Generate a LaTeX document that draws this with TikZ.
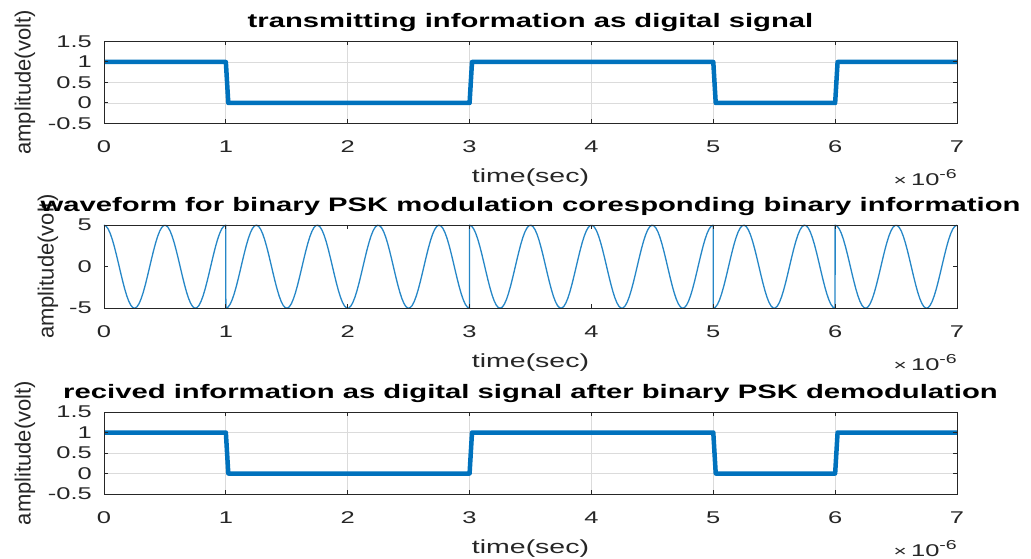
\documentclass[tikz,border=0pt]{standalone}
\usepackage{fontspec}
\setmainfont{Liberation Sans}
\usepackage{graphicx}

\definecolor{sig}{RGB}{0,114,189}
\definecolor{axgray}{gray}{0.15}
\definecolor{gridgray}{gray}{0.86}

% horizontally widened text
\newcommand\wide[1]{\scalebox{1.5}[1]{#1}}
\newcommand\tickfont{\fontsize{17}{17}\selectfont}
\newcommand\labfont{\fontsize{19}{19}\selectfont}
\newcommand\ylabfont{\fontsize{22}{22}\selectfont}
\newcommand\titfont{\bfseries\fontsize{19.5}{20}\selectfont}
\newcommand\expfont{\fontsize{17}{17}\selectfont}
\newcommand\exptext{\wide{{\fontsize{15}{15}\selectfont ×}\,10\raisebox{7pt}{\fontsize{13}{13}\selectfont -6}}}

\tikzset{
  axbox/.style={draw=axgray, line width=1pt},
  gridline/.style={draw=gridgray, line width=0.9pt},
  tickmark/.style={draw=axgray, line width=1pt},
  bits/.style={draw=sig, line width=4.5pt, line join=round},
  wave/.style={draw=sig!85, line width=1.3pt, line join=round},
  xtick/.style={anchor=base, inner sep=0pt, text=axgray, font=\tickfont},
  ytick/.style={anchor=east, inner sep=0pt, text=axgray, font=\tickfont},
  xlab/.style={anchor=base, inner sep=0pt, text=axgray, font=\labfont},
  ylab/.style={anchor=center, inner sep=0pt, text=axgray, font=\ylabfont, rotate=90},
  titl/.style={anchor=base, inner sep=0pt, text=black, font=\titfont},
  expo/.style={anchor=base east, inner sep=0pt, text=axgray, font=\expfont},
}

\begin{document}
\begin{tikzpicture}[x=1pt, y=-1pt]
\useasboundingbox (0,0) rectangle (1031,559);
\fill[white] (0,0) rectangle (1031,559);

% ---------- digital input signal ----------
\begin{scope}[xshift=104pt, yshift=-103pt, x=121.857pt, y=41pt]
  \foreach \t in {1,...,6} \draw[gridline] (\t,-0.5) -- (\t,1.5);
  \foreach \v in {0,0.5,1} \draw[gridline] (0,\v) -- (7,\v);
  \draw[bits] (0,1) -- (1,1) -- (1.02,0) -- (3,0) -- (3.02,1) -- (5,1)
              -- (5.02,0) -- (6,0) -- (6.02,1) -- (7,1);
  \draw[axbox] (0,-0.5) rectangle (7,1.5);
  \foreach \t in {0,...,7} {
    \draw[tickmark] (\t,-0.5) -- ++(0pt,4pt);
    \draw[tickmark] (\t,1.5) -- ++(0pt,-4pt);
    \path (\t,-0.5) ++(0pt,-29pt) node[xtick] (ax1x\t) {\wide{\t}};
  }
  \foreach \v/\s in {-0.5/-0.5,0/0,0.5/0.5,1/1,1.5/1.5} {
    \draw[tickmark] (0,\v) -- ++(4pt,0pt);
    \draw[tickmark] (7,\v) -- ++(-4pt,0pt);
    \path (0,\v) ++(-12pt,0pt) node[ytick] (ax1y\s) {\wide{\s}};
  }
  \path (3.5,-0.5) ++(0pt,-59pt) node[xlab] (ax1xl) {\wide{time(sec)}};
  \path (7,-0.5) ++(0pt,-62pt) node[expo] (ax1ex) {\exptext};
  \path (0,0.5) ++(-79pt,0pt) node[ylab] (ax1yl) {amplitude(volt)};
  \path (3.5,1.5) ++(0pt,13.5pt) node[titl] (ax1t) {\wide{transmitting information as digital signal}};
\end{scope}

% ---------- BPSK waveform ----------
\begin{scope}[xshift=104pt, yshift=-266.7pt, x=121.857pt, y=8.3pt]
  \draw[wave] plot[domain=0:1, samples=60] (\x,{5*cos(720*\x)})
    -- plot[domain=1:3, samples=120] (\x,{-5*cos(720*\x)})
    -- plot[domain=3:5, samples=120] (\x,{5*cos(720*\x)})
    -- plot[domain=5:6, samples=60] (\x,{-5*cos(720*\x)})
    -- plot[domain=6:7, samples=60] (\x,{5*cos(720*\x)});
  \draw[axbox] (0,-5) rectangle (7,5);
  \foreach \t in {0,...,7} {
    \draw[tickmark] (\t,-5) -- ++(0pt,4pt);
    \draw[tickmark] (\t,5) -- ++(0pt,-4pt);
    \path (\t,-5) ++(0pt,-29pt) node[xtick] (ax2x\t) {\wide{\t}};
  }
  \foreach \v in {-5,0,5} {
    \draw[tickmark] (0,\v) -- ++(4pt,0pt);
    \draw[tickmark] (7,\v) -- ++(-4pt,0pt);
    \path (0,\v) ++(-12pt,0pt) node[ytick] (ax2y\v) {\wide{\v}};
  }
  \path (3.5,-5) ++(0pt,-59pt) node[xlab] (ax2xl) {\wide{time(sec)}};
  \path (7,-5) ++(0pt,-62pt) node[expo] (ax2ex) {\exptext};
  \path (0,0) ++(-56pt,0pt) node[ylab] (ax2yl) {amplitude(volt)};
  \path (3.5,5) ++(0pt,14pt) node[titl] (ax2t) {\wide{waveform for binary PSK modulation coresponding binary information}};
\end{scope}

% ---------- demodulated signal ----------
\begin{scope}[xshift=104pt, yshift=-473.5pt, x=121.857pt, y=41pt]
  \foreach \t in {1,...,6} \draw[gridline] (\t,-0.5) -- (\t,1.5);
  \foreach \v in {0,0.5,1} \draw[gridline] (0,\v) -- (7,\v);
  \draw[bits] (0,1) -- (1,1) -- (1.02,0) -- (3,0) -- (3.02,1) -- (5,1)
              -- (5.02,0) -- (6,0) -- (6.02,1) -- (7,1);
  \draw[axbox] (0,-0.5) rectangle (7,1.5);
  \foreach \t in {0,...,7} {
    \draw[tickmark] (\t,-0.5) -- ++(0pt,4pt);
    \draw[tickmark] (\t,1.5) -- ++(0pt,-4pt);
    \path (\t,-0.5) ++(0pt,-29pt) node[xtick] (ax3x\t) {\wide{\t}};
  }
  \foreach \v/\s in {-0.5/-0.5,0/0,0.5/0.5,1/1,1.5/1.5} {
    \draw[tickmark] (0,\v) -- ++(4pt,0pt);
    \draw[tickmark] (7,\v) -- ++(-4pt,0pt);
    \path (0,\v) ++(-12pt,0pt) node[ytick] (ax3y\s) {\wide{\s}};
  }
  \path (3.5,-0.5) ++(0pt,-59pt) node[xlab] (ax3xl) {\wide{time(sec)}};
  \path (7,-0.5) ++(0pt,-62pt) node[expo] (ax3ex) {\exptext};
  \path (0,0.5) ++(-79pt,0pt) node[ylab] (ax3yl) {amplitude(volt)};
  \path (3.5,1.5) ++(0pt,14pt) node[titl] (ax3t) {\wide{recived information as digital signal after binary PSK demodulation}};
\end{scope}
\end{tikzpicture}
\end{document}
